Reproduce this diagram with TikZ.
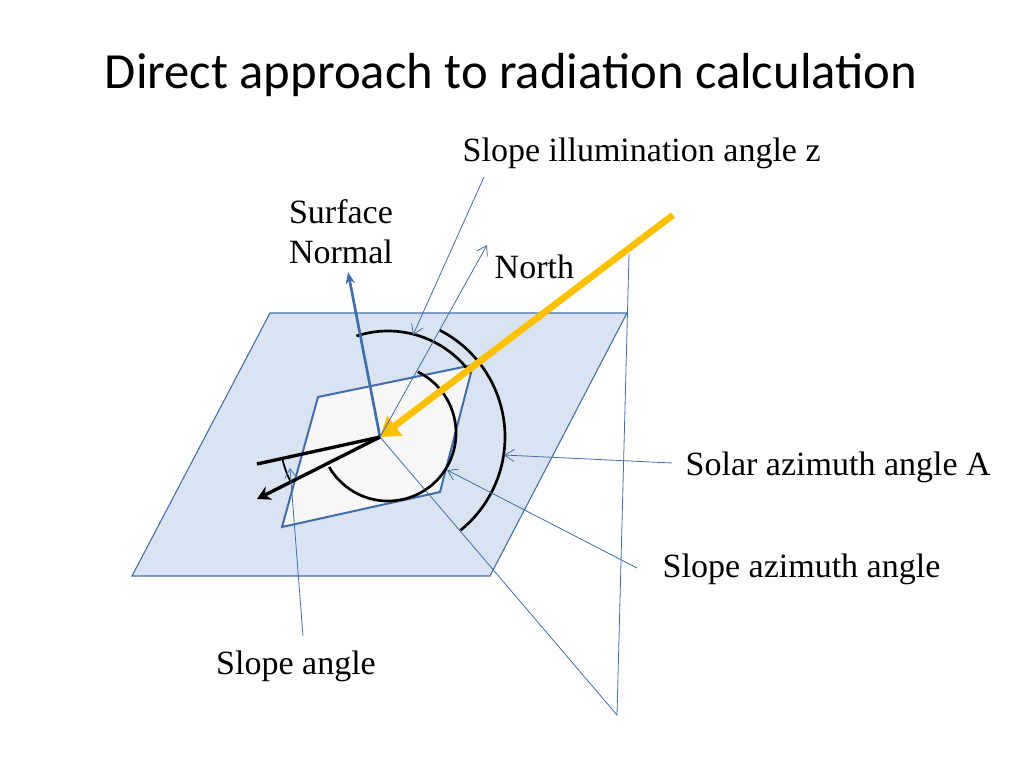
\documentclass[tikz,border=0pt]{standalone}
\usetikzlibrary{arrows.meta}
\usepackage{fontspec}
\setmainfont{Liberation Serif}
\newfontfamily\titlefont{Carlito}
\definecolor{pfill}{RGB}{218,227,242}
\definecolor{pline}{RGB}{65,110,170}
\definecolor{sunc}{RGB}{255,192,0}
\begin{document}
\begin{tikzpicture}[x=0.75pt,y=-0.75pt,
  lbl/.style={font=\fontsize{25.5}{30}\selectfont,align=center},
  thin/.style={draw=pline, line width=0.6pt},
  ptr/.style={thin,-{Straight Barb[length=7pt,width=9pt]}},
  blk/.style={draw=black,line width=2pt}]
\useasboundingbox (0,0) rectangle (1024,768);
\node[font=\titlefont\fontsize{38}{44}\selectfont] (title) at (511,75) {Direct approach to radiation calculation};
% plane
\filldraw[fill=pfill, draw=pline, line width=0.8pt] (270,313) -- (627,313) -- (490,576) -- (132,576) -- cycle;
\filldraw[fill=gray!6, draw=pline, line width=1.5pt] (318,397) -- (473,365) -- (440,492) -- (282,527) -- cycle;
\coordinate (c) at (380,437);
\coordinate (top) at (629,254);
\coordinate (bot) at (617,715);
\draw[thin] (c) -- (bot) -- (top);
% arcs
\draw[blk] (388,433) ++(-108:102) arc[start angle=-108,end angle=-36,radius=102];
\draw[blk] (388,433) ++(-64:68) arc[start angle=-64,end angle=150,radius=68];
\draw[blk] (385,437) ++(-63:120) arc[start angle=-63,end angle=51,radius=120];
% normal
\coordinate (nrm) at (348,272);
\draw[draw=pline,line width=2pt,-{Stealth[length=9pt,width=7pt]}] (c) -- (nrm);
% black
\coordinate (b1) at (257,464);
\coordinate (b2) at (257,499);
\draw[blk,line width=2.5pt] (c) -- (b1);
\draw[blk,line width=2.5pt,-{Stealth[length=10pt,width=11pt]}] (c) -- (b2);
\draw[blk,line width=1.3pt] (c) ++(167.5:100) arc[start angle=167.5,end angle=153,radius=100];
% sun
\coordinate (sun) at (673,215);
\draw[draw=sunc,line width=5pt,-{Triangle[length=14pt,width=18pt]}] (sun) -- (c);
% labels
\node[lbl,anchor=west] (ill) at (458,153) {Slope illumination angle z};
\node[lbl] (sn) at (341,232) {Surface\\Normal};
\node[lbl,anchor=west] (north) at (490,267) {North};
\node[lbl,anchor=west] (sol) at (681,467) {Solar azimuth angle A};
\node[lbl,anchor=west] (saz) at (658,569) {Slope azimuth angle};
\node[lbl] (sa) at (296,666) {Slope angle};
\coordinate (n1) at (487,245);
\draw[ptr] (c) -- (n1);
\coordinate (i1) at (484,177); \coordinate (i2) at (413,335);
\draw[ptr] (i1) -- (i2);
\coordinate (s1) at (672,463); \coordinate (s2) at (504,455);
\draw[ptr] (s1) -- (s2);
\coordinate (z1) at (637,568); \coordinate (z2) at (447,470);
\draw[ptr] (z1) -- (z2);
\coordinate (a1) at (303,636); \coordinate (a2) at (290,468);
\draw[ptr] (a1) -- (a2);
\end{tikzpicture}
\end{document}
